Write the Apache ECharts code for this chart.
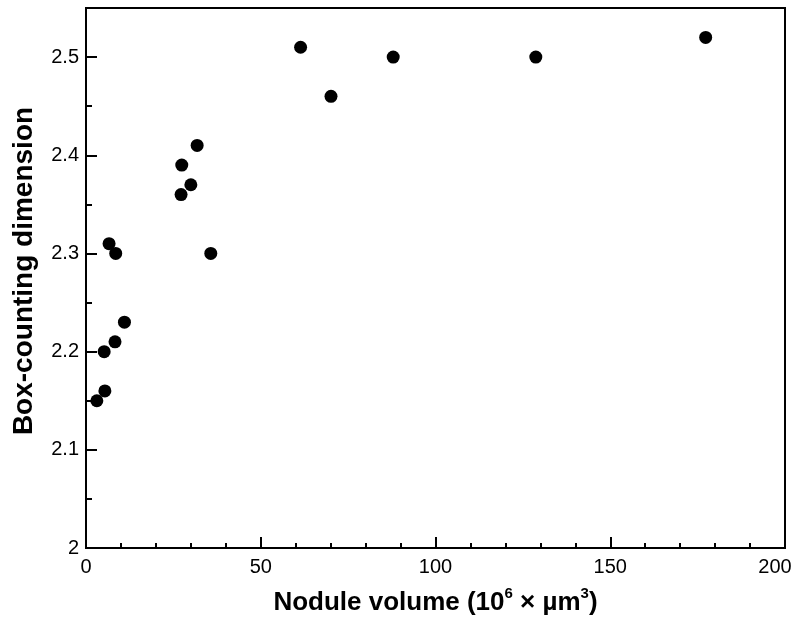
<!DOCTYPE html>
<html>
<head>
<meta charset="utf-8">
<script src="https://cdn.jsdelivr.net/npm/echarts@6/dist/echarts.min.js"></script>
<style>
  html, body { margin: 0; padding: 0; background: #fff; }
  #chart { width: 796px; height: 621px; }
</style>
</head>
<body>
<div id="chart"></div>
<script>
// nodule volume (10^6 µm^3) and box-counting dimension
const volume = [3.1, 5.4, 5.2, 6.6, 8.5, 8.3, 11.0, 27.2, 27.4, 30.0, 31.8, 35.7, 61.4, 70.1, 87.9, 128.7, 177.3];
const dimension = [2.15, 2.16, 2.20, 2.31, 2.30, 2.21, 2.23, 2.36, 2.39, 2.37, 2.41, 2.30, 2.51, 2.46, 2.50, 2.50, 2.52];

const xRange = [0, 200];
const yRange = [2, 2.55];

const font = "Liberation Sans, Arial, sans-serif";
const ink = "#000";

const chart = echarts.init(document.getElementById("chart"), null, { renderer: "canvas" });

const tickOnly = (len) => ({
  axisLine: { show: false },
  axisTick: { show: true, inside: true, length: len, lineStyle: { color: ink, width: 2 } },
  axisLabel: { show: false },
  splitLine: { show: false },
});

chart.setOption({
  animation: false,
  grid: {
    left: 86, right: 11, top: 8, bottom: 73,
    outerBoundsMode: "none",
    show: true, borderColor: ink, borderWidth: 2, backgroundColor: "transparent",
  },
  xAxis: [
    {
      type: "value", min: xRange[0], max: xRange[1], interval: 50,
      name: "{b|Nodule volume (10}{s|6}{b| × µm}{s|3}{b|)}",
      nameLocation: "middle", nameGap: 38,
      nameTextStyle: {
        rich: {
          b: { fontFamily: font, fontWeight: "bold", fontSize: 26, color: ink, verticalAlign: "bottom", lineHeight: 30 },
          s: { fontFamily: font, fontWeight: "bold", fontSize: 15, color: ink, verticalAlign: "top", lineHeight: 30, padding: [0, 0, 12, 0] },
        },
      },
      axisLine: { show: true, lineStyle: { color: ink, width: 2 } },
      axisTick: { show: true, inside: true, length: 11, lineStyle: { color: ink, width: 2 } },
      axisLabel: {
        fontFamily: font, fontSize: 20, color: ink, margin: 9,
        // the last label sits a little left of its tick so it stays on the page
        formatter: (v) => (v === xRange[1] ? "{last|" + v + "}" : String(v)),
        rich: { last: { fontFamily: font, fontSize: 20, color: ink, padding: [0, 20, 0, 0] } },
      },
      splitLine: { show: false },
    },
    { type: "value", min: xRange[0], max: xRange[1], interval: 10, position: "bottom", ...tickOnly(5) },
  ],
  yAxis: [
    {
      type: "value", min: yRange[0], max: yRange[1], interval: 0.1,
      name: "Box-counting dimension",
      nameLocation: "middle", nameGap: 48,
      nameTextStyle: { fontFamily: font, fontWeight: "bold", fontSize: 28, color: ink, padding: [0, 0, 0, 14] },
      axisLine: { show: true, lineStyle: { color: ink, width: 2 } },
      axisTick: { show: true, inside: true, length: 11, lineStyle: { color: ink, width: 2 } },
      axisLabel: {
        fontFamily: font, fontSize: 20, color: ink, margin: 7,
        formatter: (v) => (Math.abs(v * 10 - Math.round(v * 10)) < 1e-6 ? String(+v.toFixed(1)) : ""),
      },
      splitLine: { show: false },
    },
    { type: "value", min: yRange[0], max: yRange[1], interval: 0.05, position: "left", ...tickOnly(6) },
  ],
  series: [
    {
      type: "scatter",
      xAxisIndex: 0, yAxisIndex: 0,
      symbol: "circle", symbolSize: 13,
      itemStyle: { color: ink, opacity: 1 },
      data: volume.map((v, i) => [v, dimension[i]]),
    },
  ],
});
</script>
</body>
</html>
